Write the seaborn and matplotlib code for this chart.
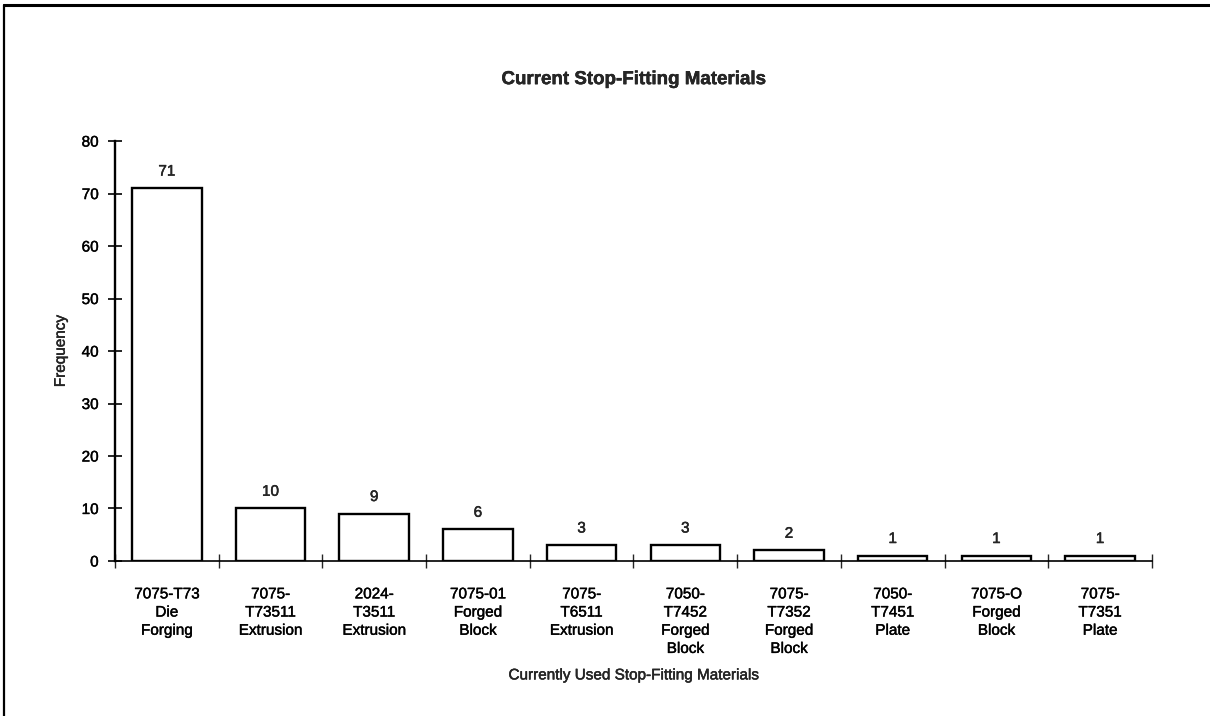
import matplotlib
matplotlib.use("Agg")
import matplotlib.pyplot as plt
import matplotlib.patheffects as pe
from matplotlib.lines import Line2D
from matplotlib.ticker import FixedLocator, NullFormatter
import seaborn as sns
import pandas as pd

materials = [
    "7075-T73\nDie\nForging",
    "7075-\nT73511\nExtrusion",
    "2024-\nT3511\nExtrusion",
    "7075-01\nForged\nBlock",
    "7075-\nT6511\nExtrusion",
    "7050-\nT7452\nForged\nBlock",
    "7075-\nT7352\nForged\nBlock",
    "7050-\nT7451\nPlate",
    "7075-O\nForged\nBlock",
    "7075-\nT7351\nPlate",
]
frequency = [71, 10, 9, 6, 3, 3, 2, 1, 1, 1]
y_ticks = [0, 10, 20, 30, 40, 50, 60, 70, 80]

sns.set_style("white")
plt.rcParams["font.family"] = ["Liberation Sans", "DejaVu Sans"]

# slightly heavier strokes for all text
heavy = [pe.withStroke(linewidth=0.3, foreground="black")]

df = pd.DataFrame({"material": materials, "frequency": frequency})

fig = plt.figure(figsize=(12.1, 7.16), dpi=100)
ax = fig.add_axes([0.095, 0.2165, 0.857, 0.5865])

sns.barplot(data=df, x="material", y="frequency", ax=ax, color="white",
            edgecolor="black", linewidth=1.7, width=0.67, saturation=1)

for patch, val in zip(ax.patches, frequency):
    ax.annotate(str(val), (patch.get_x() + patch.get_width() / 2, val),
                xytext=(0, 7), textcoords="offset points",
                ha="center", va="bottom", fontsize=11, path_effects=heavy)

ax.set_xlim(-0.5, len(materials) - 0.5)
ax.set_ylim(0, 80)
ax.set_yticks(y_ticks)
ax.tick_params(axis="y", direction="inout", length=9.5, width=1.2,
               labelsize=11, pad=7, left=True)
ax.tick_params(axis="x", which="major", length=0, labelsize=11, pad=19)
ax.xaxis.set_minor_locator(FixedLocator([i - 0.5 for i in range(len(materials) + 1)]))
ax.xaxis.set_minor_formatter(NullFormatter())
ax.tick_params(axis="x", which="minor", direction="inout", length=10, width=1.0,
               bottom=True)
ax.tick_params(axis="both", colors="black")
for lbl in ax.get_xticklabels():
    lbl.set_linespacing(1.38)
    lbl.set_path_effects(heavy)
for lbl in ax.get_yticklabels():
    lbl.set_path_effects(heavy)

sns.despine(ax=ax)
ax.spines["left"].set_linewidth(1.7)
ax.spines["bottom"].set_linewidth(1.2)
ax.spines["left"].set_color("black")
ax.spines["bottom"].set_color("black")

ax.set_ylabel("Frequency", fontsize=11, labelpad=10, path_effects=heavy)
ax.set_xlabel("Currently Used Stop-Fitting Materials", fontsize=11, labelpad=9,
              path_effects=heavy)
ax.set_title("Current Stop-Fitting Materials", fontsize=13.5, fontweight="bold",
             pad=41, path_effects=heavy)

# frame around the chart area
fig.add_artist(Line2D([0.003, 1.0], [0.993, 0.993], transform=fig.transFigure,
                      color="black", linewidth=2.2))
fig.add_artist(Line2D([0.0035, 0.0035], [0.0, 0.993], transform=fig.transFigure,
                      color="black", linewidth=1.6))

fig.savefig("out.png", dpi=100, facecolor="white")
